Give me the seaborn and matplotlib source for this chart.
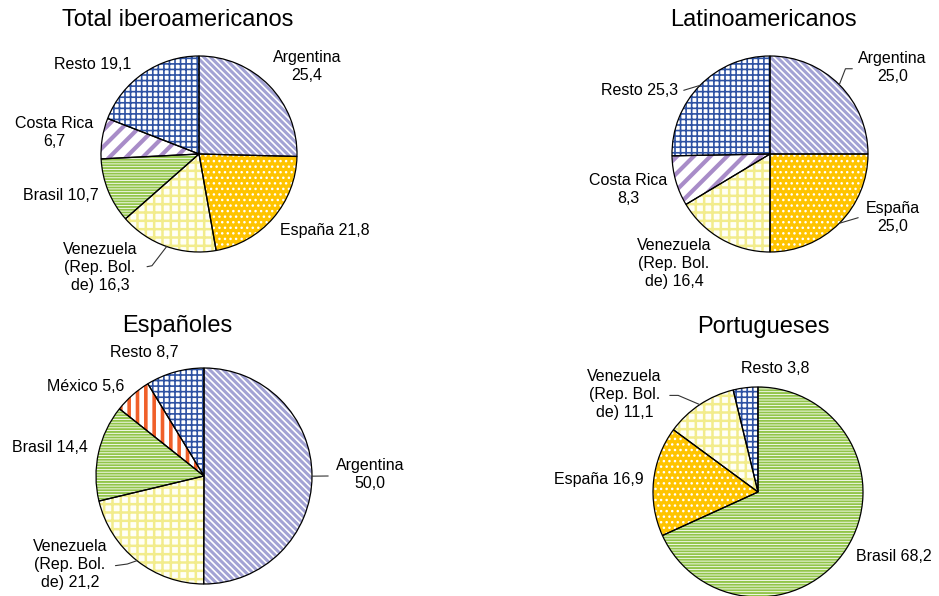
import matplotlib
matplotlib.use("Agg")
import matplotlib.pyplot as plt
import numpy as np
import seaborn as sns

W, H = 939, 596

# ---- data (percentages, clockwise from 12 o'clock) ----
titles = ["Total iberoamericanos", "Latinoamericanos", "Españoles", "Portugueses"]

total_countries = ["Argentina", "España", "Venezuela", "Brasil", "Costa Rica", "Resto"]
total_values = [25.4, 21.8, 16.3, 10.7, 6.7, 19.1]

latino_countries = ["Argentina", "España", "Venezuela", "Costa Rica", "Resto"]
latino_values = [25.0, 25.0, 16.4, 8.3, 25.3]

espanoles_countries = ["Argentina", "Venezuela", "Brasil", "México", "Resto"]
espanoles_values = [50.0, 21.2, 14.4, 5.6, 8.7]

portugueses_countries = ["Brasil", "España", "Venezuela", "Resto"]
portugueses_values = [68.2, 16.9, 11.1, 3.8]

DISPLAY_NAMES = {"Venezuela": "Venezuela\n(Rep. Bol.\nde)"}

# ---- styling: fill colour, hatch pattern, hatch colour, hatch width ----
STYLE = {
    "Argentina": dict(face="white", hatch="\\" * 5, color="#A2A2D4", hlw=2.2),
    "España": dict(face="#FFC400", hatch="...", color="white", hlw=1.0),
    "Venezuela": dict(face="#FFFFF6", hatch="++", color="#F2EC8C", hlw=1.8),
    "Brasil": dict(face="white", hatch="-" * 6, color="#92C54A", hlw=1.4),
    "Costa Rica": dict(face="white", hatch="//", color="#A88CC8", hlw=3.0),
    "México": dict(face="white", hatch="||", color="#F0602A", hlw=2.6),
    "Resto": dict(face="white", hatch="+++", color="#2E52A3", hlw=1.2),
}

# ---- layout (pixel centre/radius, title pos, labels in radius units) ----
LAYOUTS = [
    dict(center=(199, 154, 98), title=(178, 20),
         labels={"Argentina": (1.10, 0.89, "\n"), "España": (1.28, -0.78, " "),
                 "Venezuela": (-1.01, -1.16, " "), "Brasil": (-1.41, -0.42, " "),
                 "Costa Rica": (-1.48, 0.22, "\n"), "Resto": (-1.09, 0.91, " ")},
         leaders={"Venezuela": [(-0.48, -1.14), (-0.53, -1.15)]}),
    dict(center=(770, 154, 98), title=(763, 20),
         labels={"Argentina": (1.25, 0.88, "\n"), "España": (1.25, -0.65, "\n"),
                 "Venezuela": (-0.98, -1.12, " "), "Costa Rica": (-1.45, -0.36, "\n"),
                 "Resto": (-1.33, 0.65, " ")},
         leaders={"Argentina": [(0.77, 0.87), (0.84, 0.87)],
                  "España": [(0.90, -0.65)],
                  "Resto": [(-0.88, 0.65)]}),
    dict(center=(204, 476, 108), title=(177, 326),
         labels={"Argentina": (1.54, 0.01, "\n"), "Venezuela": (-1.24, -0.82, " "),
                 "Brasil": (-1.43, 0.26, " "), "México": (-1.10, 0.83, " "),
                 "Resto": (-0.55, 1.14, " ")},
         leaders={"Argentina": [(1.15, 0.0)],
                  "Venezuela": [(-0.71, -0.815), (-0.82, -0.83)]}),
    dict(center=(758, 492, 105), title=(763, 327),
         labels={"Brasil": (1.29, -0.61, " "), "España": (-1.52, 0.12, " "),
                 "Venezuela": (-1.27, 0.93, " "), "Resto": (0.16, 1.18, " ")},
         leaders={"Venezuela": [(-0.76, 0.92), (-0.84, 0.92)]}),
]

sns.set_theme(style="white")
plt.rcParams["font.family"] = ["Liberation Sans", "DejaVu Sans"]
plt.rcParams["text.color"] = "black"
plt.rcParams["hatch.linewidth"] = 1.5


def fmt(v):
    return f"{v:.1f}".replace(".", ",")


def draw_panel(fig, countries, values, title, lay):
    cx, cy, r = lay["center"]
    ax = fig.add_axes([(cx - r) / W, (H - cy - r) / H, 2 * r / W, 2 * r / H])
    styles = [STYLE[c] for c in countries]

    # hatched fill layer
    wedges, _ = ax.pie(values, startangle=90, counterclock=False, radius=1,
                       colors=[s["face"] for s in styles],
                       wedgeprops=dict(linewidth=0))
    for w, s in zip(wedges, styles):
        w.set_edgecolor(s["color"])
        w.set_linewidth(0)
        w.set_hatch(s["hatch"])
        if hasattr(w, "set_hatch_linewidth"):
            w.set_hatch_linewidth(s["hlw"])

    # black outline layer
    ax.pie(values, startangle=90, counterclock=False, radius=1,
           wedgeprops=dict(fill=False, edgecolor="black", linewidth=0.9))

    for c, v in zip(countries, values):
        x, y, sep = lay["labels"][c]
        name = DISPLAY_NAMES.get(c, c)
        ax.text(x, y, f"{name}{sep}{fmt(v)}", ha="center", va="center",
                fontsize=11.5, linespacing=1.25, color="black")

    for c, pts in lay["leaders"].items():
        w = wedges[countries.index(c)]
        mid = np.deg2rad((w.theta1 + w.theta2) / 2)
        xs = [np.cos(mid)] + [p[0] for p in pts]
        ys = [np.sin(mid)] + [p[1] for p in pts]
        ax.plot(xs, ys, color="#333333", linewidth=0.8, clip_on=False)

    ax.set_xlim(-1, 1)
    ax.set_ylim(-1, 1)
    ax.set_aspect("equal")
    ax.axis("off")

    tx, ty = lay["title"]
    fig.text(tx / W, 1 - ty / H, title, ha="center", va="center",
             fontsize=17, color="black")


fig = plt.figure(figsize=(W / 100, H / 100), dpi=100)
fig.patch.set_facecolor("white")

panels = [
    (total_countries, total_values),
    (latino_countries, latino_values),
    (espanoles_countries, espanoles_values),
    (portugueses_countries, portugueses_values),
]
for (countries, values), title, lay in zip(panels, titles, LAYOUTS):
    draw_panel(fig, countries, values, title, lay)

fig.savefig("out.png", dpi=100, facecolor="white")
